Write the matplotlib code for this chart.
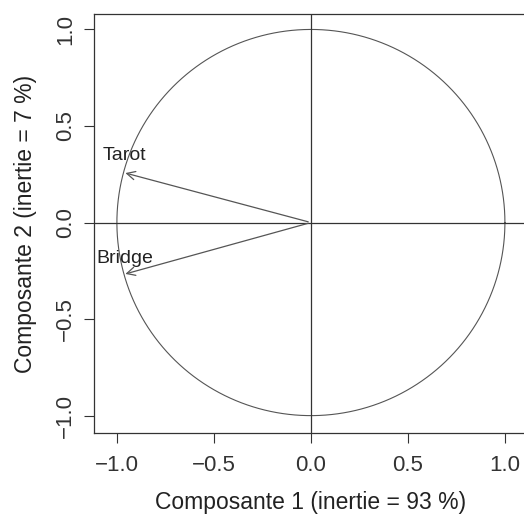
import numpy as np
import matplotlib
matplotlib.use("Agg")
import matplotlib.pyplot as plt

plt.rcParams.update({"font.family": ["Liberation Sans", "DejaVu Sans"], "font.size": 11})

# variables on the correlation circle
names = ["Tarot", "Bridge"]
comp1 = [-0.97, -0.97]
comp2 = [0.26, -0.27]
ticks = [-1.0, -0.5, 0.0, 0.5, 1.0]

fig = plt.figure(figsize=(5.24, 5.16), dpi=100)
ax = fig.add_axes([94 / 524, 83 / 516, 434 / 524, 419 / 516])

t = np.linspace(0, 2 * np.pi, 400)
ax.plot(np.cos(t), np.sin(t), color="#555555", lw=0.8)
ax.axhline(0, color="#333333", lw=0.9)
ax.axvline(0, color="#333333", lw=0.9)

for n, x, y in zip(names, comp1, comp2):
    ax.annotate("", xy=(x, y), xytext=(0, 0),
                arrowprops=dict(arrowstyle="->", color="#555555", lw=0.9,
                                mutation_scale=15))
    ax.text(x + 0.01, y + 0.085, n, ha="center", va="center", fontsize=14, color="#222222")

ax.set_xlim(-1.118, 1.119)
ax.set_ylim(-1.09, 1.08)
ax.set_xticks(ticks)
ax.set_yticks(ticks)
ax.set_xticklabels([f"{v:.1f}".replace("-", "\u2212") for v in ticks])
ax.set_yticklabels([f"{v:.1f}".replace("-", "\u2212") for v in ticks], rotation=90, va="center")
ax.tick_params(direction="out", length=7, width=0.8, colors="#333333", labelsize=16)
ax.tick_params(axis="x", pad=9)
ax.tick_params(axis="y", pad=6)
for s in ax.spines.values():
    s.set_color("#333333")
    s.set_linewidth(0.9)
ax.set_xlabel("Composante 1 (inertie = 93 %)", fontsize=16.5, color="#222222", labelpad=11)
ax.set_ylabel("Composante 2 (inertie = 7 %)", fontsize=16.5, color="#222222", labelpad=13)

fig.savefig("out.png", dpi=100)
